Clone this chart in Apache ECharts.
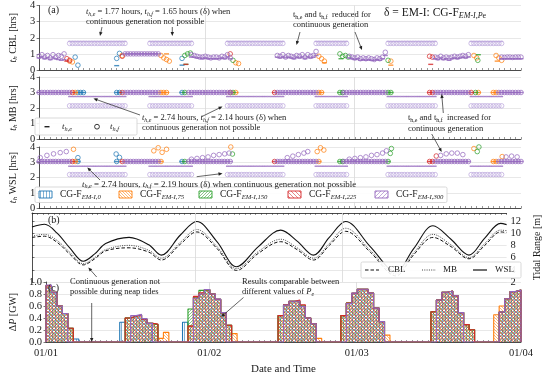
<!DOCTYPE html>
<html>
<head>
<meta charset="utf-8">
<script src="https://cdn.jsdelivr.net/npm/echarts@6.0.0/dist/echarts.min.js"></script>
<style>
html,body{margin:0;padding:0;background:#fff;}
#chart{width:550px;height:376px;}
</style>
</head>
<body>
<div id="chart"></div>
<script>
// ================= DATA =================
// x unit: model time step (~0.83 h); the axis runs 01/01 -> 01/04
const xMax = 87;
const dateTicks = [0, 29.9, 56.9, 87];
const dateLabels = ['01/01', '01/02', '01/03', '01/04'];
const caseSubs = ['EM-I,0', 'EM-I,75', 'EM-I,150', 'EM-I,225', 'EM-I,300'];

// sampling interval of the t_h series (steps)
const HALF = 0.5;

// δ reference periods (continuous generation not possible)
const deltaSegs = [[5.5, 15.5], [20, 27.5], [34, 44], [50, 55.5], [63, 71.5], [78, 83.5]];
const cblDeltaE = 1.77, cblDeltaF = 1.65;
const mbDeltaE = 2.74, mbDeltaF = 2.14;
const wslDeltaE = 2.74, wslDeltaF = 2.19;

// ---- CBL  t_h (groups: [start, values every HALF step]) ----
const cblF300 = [
  [0, [0.85, 0.95, 0.8, 0.9, 0.75, 0.95, 0.8, 0.9, 0.85, 1.0]],
  [15.5, [1, 1, 1, 1, 1, 1, 1, 1, 1, 1, 1, 1, 1]],
  [27.5, [0.95, 0.9, 0.85, 0.8, 0.8, 0.85, 0.8, 0.75, 0.8, 0.8, 0.75, 0.85, 0.8, 0.95, 0.75]],
  [43, [0.9, 0.85, 0.95, 0.8, 0.9, 0.85, 0.8, 0.9, 0.85, 0.95, 0.8, 0.95, 0.85, 0.9, 1.15]],
  [56, [0.85, 0.8, 0.75, 0.8, 0.7, 0.75, 0.7, 0.75, 0.7, 0.65, 0.75, 0.7, 0.8, 1.1]],
  [71.5, [0.8, 0.75, 0.85, 0.75, 0.8, 0.75, 0.8, 0.85, 0.8, 0.85, 0.9, 0.85, 0.95]],
  [83.5, [0.8, 0.78, 0.8, 0.8, 0.78, 0.8, 0.8, 0.8]]
];
const cblE300 = [
  [0, [0.75, 0.8, 0.7, 0.75, 0.65, 0.75, 0.7, 0.65, 0.6, 0.65]],
  [15.5, [1, 1, 1, 1, 1, 1, 1, 1, 1, 1, 1, 1, 1]],
  [27.5, [0.8, 0.8, 0.75, 0.75, 0.7, 0.75, 0.7, 0.7, 0.7, 0.7, 0.7, 0.75, 0.7, 0.8, 0.7]],
  [43, [0.8, 0.75, 0.8, 0.75, 0.8, 0.75, 0.7, 0.8, 0.75, 0.8, 0.7, 0.8, 0.75, 0.8, 0.9]],
  [56, [0.75, 0.7, 0.65, 0.7, 0.6, 0.65, 0.6, 0.65, 0.6, 0.6, 0.65, 0.6, 0.7, 0.9]],
  [71.5, [0.7, 0.65, 0.75, 0.65, 0.7, 0.6, 0.7, 0.75, 0.7, 0.75, 0.8, 0.75, 0.8]],
  [83.5, [0.7, 0.7, 0.7, 0.7, 0.7, 0.7, 0.7, 0.7]]
];
const cblF225 = [[5, [0.7, 0.6]], [15, [0.85]], [34.5, [1.0]], [70.5, [0.85, 0.8]]];
const cblE225 = [[5, [0.55]], [26.5, [0.35]], [70.7, [0.35]]];
const cblF150 = [[26.3, [0.9, 1.0, 1.05]], [35, [0.6]], [54.3, [1.0, 0.85, 0.9, 0.8]], [63, [0.6]], [79.2, [0.6]]];
const cblE150 = [[26.5, [0.35]], [54.5, [0.7]], [79.3, [0.95]]];
const cblF75 = [[5.5, [0.55, 0.5]], [15, [0.9]], [22, [0.9, 0.75, 0.65, 0.55]], [35.5, [0.45, 0.4]],
  [50.5, [0.85, 0.7, 0.55]], [63.5, [0.55]], [78.5, [0.9, 0.75]], [82.5, [0.9, 0.75, 0.6]]];
const cblE75 = [[23, [1.0]], [51.5, [0.45]], [63.5, [0.3]], [82.7, [0.55]]];
const cblF0 = [[6.5, [0.8, 0.3]], [14, [0.72, 1.03]], [25.8, [0.72]]];
const cblE0 = [[14, [0.27]], [25.8, [0.3]]];

// ---- MB t_h (t_h,e = t_h,f during continuous generation) ----
const mb300 = [
  [0, [3, 3, 3, 3, 3, 3, 3, 3, 3, 3, 3, 3]],
  [15.5, [3, 3, 3, 3, 3, 3, 3, 3, 3, 3, 3, 3, 3]],
  [27, [3, 3, 3, 3, 3, 3, 3, 3, 3, 3, 3, 3, 3, 3, 3, 3]],
  [43, [3, 3, 3, 3, 3, 3, 3, 3, 3, 3, 3, 3, 3, 3, 3]],
  [55, [3, 3, 3, 3, 3, 3, 3, 3, 3, 3, 3, 3, 3, 3, 3, 3]],
  [71.5, [3, 3, 3, 3, 3, 3, 3, 3, 3, 3, 3, 3, 3]],
  [83, [3, 3, 3, 3, 3, 3, 3, 3, 3]]
];
const mb225 = [[6, [3]], [15, [3]], [34.5, [3]], [42.5, [3]], [70.5, [3, 3]], [78, [3]]];
const mb150 = [[26.3, [3]], [35, [3]], [54.3, [3, 3]], [63, [3, 3]], [78.8, [3]]];
const mb75 = [[6.5, [3]], [22, [3, 3, 3]], [35.5, [3]], [50.5, [3, 3]], [79.3, [3]], [82, [3, 3]]];
const mb0 = [[7, [3, 3, 3]], [14, [3, 3]], [25.8, [3]]];

// ---- WSL t_h ----
const wslLow300 = [
  [0, [3.05, 3.05, 3.05, 3.05, 3.05, 3.05, 3.05, 3.05, 3.05, 3.05, 3.05, 3.05]],
  [15.5, [3.05, 3.05, 3.05, 3.05, 3.05, 3.05, 3.05, 3.05, 3.05, 3.05, 3.05, 3.05, 3.05]],
  [27, [3.05, 3.05, 3.05, 3.05, 3.05, 3.05, 3.05, 3.05, 3.05, 3.05, 3.05, 3.05, 3.05, 3.05, 3.05, 3.05]],
  [43, [3.05, 3.05, 3.05, 3.05, 3.05, 3.05, 3.05, 3.05, 3.05, 3.05, 3.05, 3.05, 3.05, 3.05, 3.05]],
  [55, [3.05, 3.05, 3.05, 3.05, 3.05, 3.05, 3.05, 3.05, 3.05, 3.05, 3.05, 3.05, 3.05, 3.05, 3.05, 3.05]],
  [71.5, [3.05, 3.05, 3.05, 3.05, 3.05, 3.05, 3.05, 3.05, 3.05, 3.05, 3.05, 3.05, 3.05]],
  [83, [3.05, 3.05, 3.05, 3.05, 3.05, 3.05, 3.05, 3.05, 3.05]]
];
const wslLow225 = [[6, [3.05]], [15, [3.05]], [42.5, [3.05]], [70.5, [3.05, 3.05]]];
const wslLow150 = [[26.3, [3.05]], [54.3, [3.05, 3.05]], [63, [3.05]]];
const wslLow75 = [[6.5, [3.05]], [22, [3.05]], [50.5, [3.05]], [82, [3.05, 3.05]]];
const wslLow0 = [[7, [3.05]], [14, [3.05]], [25.8, [3.05]]];
// upper t_h,f points [step, hours]
const wslUp300 = [[0.2, 3.3], [1.4, 3.45], [2.6, 3.55], [3.8, 3.63], [4.9, 3.7],
  [27.5, 3.2], [28.5, 3.25], [29.5, 3.3], [30.5, 3.35], [31.5, 3.45], [32.5, 3.5], [33.5, 3.55], [34.3, 3.6],
  [44.8, 3.3], [45.8, 3.4], [46.8, 3.5], [47.8, 3.6], [48.5, 3.7],
  [56, 3.2], [57, 3.25], [58, 3.3], [59, 3.35], [60, 3.45], [61, 3.5], [62, 3.6], [62.7, 3.75],
  [72.5, 3.45], [73.5, 3.55], [74.5, 3.6], [75.5, 3.6], [76.5, 3.5],
  [84.3, 3.35], [85.3, 3.4], [86.3, 3.35]];
const wslUp225 = [[71.7, 3.41]];
const wslUp150 = [[34.9, 3.54], [63.4, 3.58], [63.6, 3.9], [79.1, 3.7], [79.4, 4.0]];
const wslUp75 = [[6.2, 3.85], [20.7, 3.75], [21.5, 3.95], [22.2, 3.65], [23, 3.85], [34.6, 4.0],
  [50.2, 3.7], [50.8, 3.95], [51.4, 3.8], [78.5, 3.9], [83.6, 3.37]];
const wslUp0 = [[7.2, 4.1], [7, 3.3], [13.9, 3.54], [14.5, 3.32]];

// ---- (b) tidal range [m] ----
const tideX =   [0, 2.3, 4.6, 7, 9.4, 11.5, 13.5, 17.8, 21.4, 23.7, 27.2, 30.2, 33.9, 37.5, 41.5, 45.6, 48.6, 51.6, 54.5, 57.5, 62, 66.7, 70, 73.5, 76.8, 80.1, 83, 85.9, 87];
const tideWSL = [11.0, 11.45, 10.0, 7.5, 5.4, 6.6, 8.3, 9.3, 8.1, 6.4, 9.7, 11.9, 8.6, 4.5, 7.8, 10.5, 8.7, 6.4, 9.3, 11.9, 7.8, 3.7, 7.5, 11.2, 9.0, 6.4, 9.2, 11.6, 11.4];
const tideMB =  [9.5, 9.8, 8.8, 6.8, 5.0, 6.0, 7.3, 8.0, 7.2, 5.9, 8.5, 10.6, 7.8, 4.2, 7.0, 9.0, 7.6, 5.9, 8.3, 10.8, 7.2, 3.3, 6.8, 9.8, 8.1, 6.0, 8.3, 10.5, 10.4];
const tideCBL = [9.3, 9.5, 8.5, 6.5, 4.8, 5.8, 7.1, 7.6, 6.9, 5.6, 8.2, 10.2, 7.5, 3.9, 6.7, 8.6, 7.3, 5.6, 8.0, 10.3, 6.9, 3.0, 6.5, 9.3, 7.8, 5.8, 8.0, 10.2, 10.1];

// ---- (c) ΔP [GW] per step (groups: [first step, values]) ----
const dP0 = [[0, [0.94, 0.83, 0.60, 0.475, 0.23, 0.05]], [13.5, [0.33, 0.40, 0.43, 0.45, 0.38, 0.31, 0.29]],
  [25, [0.33, 0.265, 0.74, 0.80, 0.87, 0.80, 0.71, 0.49, 0.28]], [42.5, [0.44, 0.62, 0.68, 0.68, 0.60, 0.40, 0.305]],
  [54, [0.44, 0.65, 0.81, 0.88, 0.88, 0.815, 0.565, 0.34]], [70.5, [0.505, 0.70, 0.83, 0.85, 0.77, 0.49, 0.29, 0.205]],
  [83, [0.50, 0.72, 0.84, 0.865]]];
const dP75 = [[0, [0.94, 0.83, 0.60, 0.475, 0.23]], [14.5, [0.40, 0.43, 0.45, 0.38, 0.31, 0.29, 0.06, 0.16]],
  [26, [0.265, 0.74, 0.80, 0.87, 0.80, 0.71, 0.49, 0.28, 0.14]], [42.5, [0.44, 0.62, 0.68, 0.68, 0.60, 0.40, 0.305, 0.06]],
  [54, [0.44, 0.65, 0.81, 0.88, 0.88, 0.815, 0.565, 0.34, 0.115]], [70.5, [0.505, 0.70, 0.83, 0.85, 0.77, 0.49, 0.29, 0.205]],
  [82, [0.455, 0.60, 0.72, 0.84, 0.865]]];
const dP150 = [[0, [0.94, 0.83, 0.60, 0.475, 0.23]], [14.5, [0.40, 0.43, 0.45, 0.38, 0.31, 0.29]],
  [26, [0.55, 0.75, 0.86, 0.87, 0.80, 0.71, 0.49, 0.28]], [42.5, [0.44, 0.62, 0.68, 0.68, 0.60, 0.40, 0.305]],
  [54, [0.44, 0.65, 0.81, 0.88, 0.88, 0.815, 0.565, 0.34]], [70.5, [0.505, 0.70, 0.83, 0.85, 0.77, 0.49, 0.29, 0.205]],
  [83, [0.50, 0.72, 0.84, 0.865]]];
const dP225 = [[0, [0.94, 0.83, 0.60, 0.475, 0.23]], [14.5, [0.40, 0.43, 0.45, 0.38, 0.31, 0.30]],
  [26, [0.265, 0.76, 0.82, 0.87, 0.80, 0.71, 0.49, 0.28]], [42.5, [0.44, 0.62, 0.68, 0.70, 0.62, 0.40, 0.305]],
  [54, [0.44, 0.65, 0.81, 0.88, 0.88, 0.815, 0.565, 0.34]], [70.5, [0.505, 0.70, 0.83, 0.85, 0.77, 0.49, 0.29, 0.205]],
  [83, [0.50, 0.72, 0.84, 0.865]]];
const dP300 = [[0, [0.95, 0.83, 0.60, 0.475]], [15.5, [0.44, 0.46, 0.39, 0.31]],
  [27, [0.73, 0.80, 0.875, 0.80, 0.715, 0.49]], [43.5, [0.615, 0.68, 0.68, 0.59, 0.40, 0.305]],
  [55, [0.64, 0.815, 0.88, 0.88, 0.815, 0.565, 0.34]], [71.5, [0.70, 0.83, 0.85, 0.77, 0.49]],
  [83, [0.50, 0.72, 0.84, 0.865]]];

// ================= STYLE / BUILD =================
const SERIF = "'Liberation Serif','DejaVu Serif',serif";
const INK = '#1a1a1a';
const COLORS = ['#1f77b4', '#ff7f0e', '#2ca02c', '#d62728', '#9467bd'];
const DELTA_C = '#bba6dc';

function expand(groups) {
  const out = [];
  groups.forEach(([s, vals]) => vals.forEach((v, i) => out.push([s + i * HALF, v])));
  return out;
}
function deltaPts(val) {
  const out = [];
  deltaSegs.forEach(([a, b]) => { for (let x = a; x <= b + 1e-9; x += HALF) out.push([x, val]); });
  return out;
}
function stepPts(groups) {
  const out = [];
  groups.forEach(([s, vals]) => {
    out.push([s, 0]);
    vals.forEach((v, i) => out.push([s + i, v]));
    out.push([s + vals.length, 0]);
  });
  return out;
}
function hatch(color, kind, gap) {
  const c = document.createElement('canvas');
  c.width = gap; c.height = gap;
  const g = c.getContext('2d');
  g.strokeStyle = color; g.lineWidth = 0.7; g.globalAlpha = 0.8;
  g.beginPath();
  if (kind === '|') { g.moveTo(gap / 2, 0); g.lineTo(gap / 2, gap); }
  else if (kind === '/') {
    g.moveTo(0, gap); g.lineTo(gap, 0);
    g.moveTo(-1, 1); g.lineTo(1, -1);
    g.moveTo(gap - 1, gap + 1); g.lineTo(gap + 1, gap - 1);
  } else {
    g.moveTo(0, 0); g.lineTo(gap, gap);
    g.moveTo(-1, gap - 1); g.lineTo(1, gap + 1);
    g.moveTo(gap - 1, -1); g.lineTo(gap + 1, 1);
  }
  g.stroke();
  return c;
}
const HATCH_KIND = ['|', '\\', '/', '\\', '/'];
const HATCH_GAP = [3, 3, 3, 4, 4];
const patterns = COLORS.map((c, i) => ({ image: hatch(c, HATCH_KIND[i], HATCH_GAP[i]), repeat: 'repeat' }));

function rich(base) {
  const sub = Math.round(base * 0.7 * 10) / 10;
  return {
    i: { fontStyle: 'italic', fontFamily: SERIF, fontSize: base, lineHeight: base + 2, fill: INK, color: INK },
    n: { fontFamily: SERIF, fontSize: base, lineHeight: base + 2, fill: INK, color: INK },
    s: { fontStyle: 'italic', fontFamily: SERIF, fontSize: sub, lineHeight: sub - 1, verticalAlign: 'bottom', fill: INK, color: INK },
    u: { fontFamily: SERIF, fontSize: sub, lineHeight: sub - 1, verticalAlign: 'bottom', fill: INK, color: INK }
  };
}

const grids = [
  { left: 32, width: 489, top: 5, height: 65 },
  { left: 32, width: 489, top: 77, height: 62 },
  { left: 32, width: 489, top: 147, height: 61 },
  { left: 32, width: 489, top: 213, height: 69 },
  { left: 32, width: 489, top: 282, height: 66 }
];

const stepTicks = [];
for (let k = 0; k <= xMax; k++) stepTicks.push(k);

const xAxes = grids.map((g, gi) => ({
  type: 'value', gridIndex: gi, min: 0, max: xMax,
  position: gi === 3 ? 'top' : 'bottom',
  axisLine: { show: true, onZero: false, lineStyle: { color: '#222', width: 0.8 } },
  axisTick: { show: true, inside: true, length: 2, customValues: stepTicks, lineStyle: { color: '#333', width: 0.5 } },
  axisLabel: gi === 4 ? {
    show: true, customValues: dateTicks, fontFamily: SERIF, fontSize: 10.5, color: INK, margin: 6,
    formatter: v => { const k = dateTicks.findIndex(t => Math.abs(t - v) < 0.01); return k >= 0 ? dateLabels[k] : ''; }
  } : { show: false },
  splitLine: { show: false },
  name: gi === 4 ? 'Date and Time' : '', nameLocation: 'middle', nameGap: 22,
  nameTextStyle: { fontFamily: SERIF, fontSize: 11, color: INK }
}));

function aYAxis(gi, label) {
  return {
    type: 'value', gridIndex: gi, min: 0, max: 4, interval: 1,
    axisLine: { show: true, lineStyle: { color: '#222', width: 0.8 } },
    axisTick: { show: true, length: 2.5, lineStyle: { color: '#222', width: 0.6 } },
    axisLabel: { fontFamily: SERIF, fontSize: 10.5, color: INK, margin: 4 },
    splitLine: { show: true, lineStyle: { color: '#e2e2e2', width: 0.8 } },
    name: '{i|t}{s|h} ' + label + ' [hrs]', nameLocation: 'middle', nameRotate: 90, nameGap: 14,
    nameTextStyle: { fontFamily: SERIF, fontSize: 10, color: INK, rich: rich(10) }
  };
}
const yAxes = [
  aYAxis(0, 'CBL'), aYAxis(1, 'MB'), aYAxis(2, 'WSL'),
  {
    type: 'value', gridIndex: 3, min: 2, max: 13.3, interval: 2, position: 'right',
    axisLine: { show: true, lineStyle: { color: '#222', width: 0.8 } },
    axisTick: { show: true, length: 2.5, lineStyle: { color: '#222', width: 0.6 } },
    axisLabel: { fontFamily: SERIF, fontSize: 10.5, color: INK, margin: 4,
      formatter: v => (v <= 12.01 && Math.abs(v % 2) < 0.01) ? String(v) : '' },
    splitLine: { show: true, lineStyle: { color: '#e2e2e2', width: 0.8 } },
    name: 'Tidal Range [m]', nameLocation: 'middle', nameRotate: 90, nameGap: 20,
    nameTextStyle: { fontFamily: SERIF, fontSize: 10, color: INK }
  },
  {
    type: 'value', gridIndex: 4, min: 0, max: 1, interval: 0.2,
    axisLine: { show: true, lineStyle: { color: '#222', width: 0.8 } },
    axisTick: { show: true, length: 2.5, lineStyle: { color: '#222', width: 0.6 } },
    axisLabel: { fontFamily: SERIF, fontSize: 10.5, color: INK, margin: 4, formatter: v => v.toFixed(1) },
    splitLine: { show: true, lineStyle: { color: '#e2e2e2', width: 0.8 } },
    name: '{n|Δ}{i|P} [GW]', nameLocation: 'middle', nameRotate: 90, nameGap: 20,
    nameTextStyle: { fontFamily: SERIF, fontSize: 10, color: INK, rich: rich(10) }
  }
];

const vGrid = {
  silent: true, symbol: 'none', label: { show: false },
  lineStyle: { color: '#d8d8d8', width: 0.8, type: 'solid' },
  data: [{ xAxis: dateTicks[1] }, { xAxis: dateTicks[2] }]
};

function circles(gi, data, color, z, extra) {
  return Object.assign({
    type: 'scatter', xAxisIndex: gi, yAxisIndex: gi, data, symbol: 'circle', symbolSize: 4.6,
    itemStyle: { color: 'rgba(255,255,255,0)', borderColor: color, borderWidth: 0.9 }, z, silent: true
  }, extra || {});
}
function dashes(gi, data, color, z, w) {
  return {
    type: 'scatter', xAxisIndex: gi, yAxisIndex: gi, data, symbol: 'rect', symbolSize: [w || 5, 1.4],
    itemStyle: { color }, z, silent: true
  };
}

const series = [];
[[cblDeltaE, cblDeltaF, DELTA_C], [mbDeltaE, mbDeltaF, COLORS[4]], [wslDeltaE, wslDeltaF, COLORS[4]]].forEach(([e, f, dc], gi) => {
  series.push(circles(gi, deltaPts(f), DELTA_C, 2, { markLine: vGrid }));
  series.push(dashes(gi, deltaPts(e), dc, 3, 3));
});
const cblF = [cblF0, cblF75, cblF150, cblF225, cblF300];
const cblE = [cblE0, cblE75, cblE150, cblE225, cblE300];
const mbAll = [mb0, mb75, mb150, mb225, mb300];
const wslLow = [wslLow0, wslLow75, wslLow150, wslLow225, wslLow300];
const wslUp = [wslUp0, wslUp75, wslUp150, wslUp225, wslUp300];
for (let k = 0; k < 5; k++) {
  const z = 4 + k;
  series.push(dashes(0, expand(cblE[k]), COLORS[k], z));
  series.push(circles(0, expand(cblF[k]), COLORS[k], z));
  series.push(dashes(1, expand(mbAll[k]), COLORS[k], z));
  series.push(circles(1, expand(mbAll[k]), COLORS[k], z));
  series.push(dashes(2, expand(wslLow[k]), COLORS[k], z));
  series.push(circles(2, expand(wslLow[k]), COLORS[k], z));
  series.push(circles(2, wslUp[k], COLORS[k], z));
}
const zip = (xs, ys) => xs.map((x, i) => [x, ys[i]]);
series.push({ type: 'line', name: 'CBL', xAxisIndex: 3, yAxisIndex: 3, data: zip(tideX, tideCBL), smooth: 0.35,
  symbol: 'none', lineStyle: { color: '#111', width: 1, type: [3.5, 2] }, z: 3, silent: true, markLine: vGrid });
series.push({ type: 'line', name: 'MB', xAxisIndex: 3, yAxisIndex: 3, data: zip(tideX, tideMB), smooth: 0.35,
  symbol: 'none', lineStyle: { color: '#444', width: 1, type: [1, 1.3] }, z: 3, silent: true });
series.push({ type: 'line', name: 'WSL', xAxisIndex: 3, yAxisIndex: 3, data: zip(tideX, tideWSL), smooth: 0.35,
  symbol: 'none', lineStyle: { color: '#111', width: 1.1 }, z: 3, silent: true });
const dPAll = [dP0, dP75, dP150, dP225, dP300];
dPAll.forEach((g, k) => {
  series.push(Object.assign({
    type: 'line', name: 'CG-F ' + caseSubs[k], xAxisIndex: 4, yAxisIndex: 4, step: 'end', data: stepPts(g),
    symbol: 'none', lineStyle: { color: COLORS[k], width: 1.1 },
    areaStyle: { color: patterns[k], opacity: 1 }, z: 3 + k, silent: true
  }, k === 0 ? { markLine: vGrid } : {}));
});

// ================= ANNOTATIONS =================
const G = [];
function txt(x, y, text, size, va, extra) {
  G.push({
    type: 'text', x, y, silent: true, z: 100,
    style: Object.assign({
      text, fontFamily: SERIF, fontSize: size, lineHeight: size + 2, fill: INK,
      align: 'left', verticalAlign: va || 'middle', rich: rich(size)
    }, extra || {})
  });
}
function arrow(x1, y1, x2, y2) {
  const a = Math.atan2(y2 - y1, x2 - x1), L = 4, W = 1.7;
  const ca = Math.cos(a), sa = Math.sin(a);
  G.push({ type: 'line', silent: true, z: 100, shape: { x1, y1, x2: x2 - ca * 2, y2: y2 - sa * 2 }, style: { stroke: '#222', lineWidth: 0.7 } });
  G.push({ type: 'polygon', silent: true, z: 100, shape: { points: [[x2, y2], [x2 - L * ca + W * sa, y2 - L * sa - W * ca], [x2 - L * ca - W * sa, y2 - L * sa + W * ca]] }, style: { fill: '#222' } });
}
function box(x, y, w, h) {
  G.push({ type: 'rect', silent: true, z: 90, shape: { x, y, width: w, height: h, r: 1.5 }, style: { fill: 'rgba(255,255,255,0.9)', stroke: '#cfcfcf', lineWidth: 0.8 } });
}

txt(48, 10, '(a)', 10);
txt(48, 220, '(b)', 10);
txt(48, 288, '(c)', 10);
txt(384, 13, 'δ = EM-I: CG-F{s|EM-I,P}{u|e}', 11.5);

txt(86, 6.5, '{i|t}{s|h,e} = 1.77 hours, {i|t}{s|h,f} = 1.65 hours (δ) when\ncontinuous generation not possible', 8.5, 'top', { lineHeight: 9.5 });
arrow(102, 27, 100, 36);
arrow(172.3, 27, 172.3, 36);

txt(293, 10, 't{u|h,e} and t{u|h,f}  reduced for\ncontinuous generation', 8.5, 'top', { lineHeight: 10 });
arrow(300, 32, 296.5, 45);
arrow(355, 32, 362, 50);

txt(142, 112.5, '{i|t}{s|h,e} = 2.74 hours, {i|t}{s|h,f} = 2.14 hours (δ) when\ncontinuous generation not possible', 8.5, 'top', { lineHeight: 10 });
arrow(140, 115, 93.5, 98.5);
arrow(202, 116.5, 222.5, 106.5);

txt(408, 113, 't{u|h,e} and t{u|h,f}  increased for\ncontinuous generation', 8.5, 'top', { lineHeight: 10.5 });
arrow(443.3, 113, 441.7, 94);
arrow(431.7, 134, 441.7, 152);

txt(82, 184.3, '{i|t}{s|h,e} = 2.74 hours, {i|t}{s|h,f} = 2.19 hours (δ) when continuous generation not possible', 8.8);
arrow(100, 180, 87.3, 167.5);
arrow(196.7, 176.7, 222.5, 173.5);

txt(70, 276.5, 'Continuous generation not\npossible during neap tides', 8.5, 'top', { lineHeight: 10.5 });
arrow(91.7, 303, 91.7, 342);
arrow(96.7, 277, 88.3, 267.5);

txt(242, 276.5, 'Results comparable between\ndifferent values of {i|P}{s|e}', 8.5, 'top', { lineHeight: 10.5 });
arrow(243.5, 297.5, 221, 317);

box(35, 118, 102, 17);
G.push({ type: 'rect', silent: true, z: 95, shape: { x: 44.5, y: 126, width: 5, height: 1.4 }, style: { fill: '#222' } });
txt(62, 126.7, '{i|t}{s|h,e}', 9);
G.push({ type: 'circle', silent: true, z: 95, shape: { cx: 97, cy: 126.7, r: 2.4 }, style: { fill: 'none', stroke: '#222', lineWidth: 0.9 } });
txt(110, 126.7, '{i|t}{s|h,f}', 9);

box(35, 187, 412, 15.5);
const legX = [39, 119, 199, 288, 375];
legX.forEach((x, k) => {
  G.push({ type: 'rect', silent: true, z: 95, shape: { x, y: 191, width: 13, height: 7 }, style: { fill: patterns[k], stroke: COLORS[k], lineWidth: 0.9 } });
  txt(x + 21, 194.5, 'CG-F{s|' + caseSubs[k] + '}', 9.5);
});

box(361, 262, 160, 16);
G.push({ type: 'line', silent: true, z: 95, shape: { x1: 365, y1: 270, x2: 379, y2: 270 }, style: { stroke: '#111', lineWidth: 1.1, lineDash: [3.5, 2] } });
txt(388, 270, 'CBL', 9);
G.push({ type: 'line', silent: true, z: 95, shape: { x1: 422, y1: 270, x2: 436, y2: 270 }, style: { stroke: '#444', lineWidth: 1.1, lineDash: [1, 1.3] } });
txt(443, 270, 'MB', 9);
G.push({ type: 'line', silent: true, z: 95, shape: { x1: 473, y1: 270, x2: 487, y2: 270 }, style: { stroke: '#111', lineWidth: 1.2 } });
txt(495, 270, 'WSL', 9);

const option = {
  animation: false,
  backgroundColor: '#fff',
  textStyle: { fontFamily: SERIF },
  grid: grids,
  xAxis: xAxes,
  yAxis: yAxes,
  series,
  graphic: { elements: G }
};
const chart = echarts.init(document.getElementById('chart'), null, { renderer: 'canvas', width: 550, height: 376 });
chart.setOption(option);
</script>
</body>
</html>
